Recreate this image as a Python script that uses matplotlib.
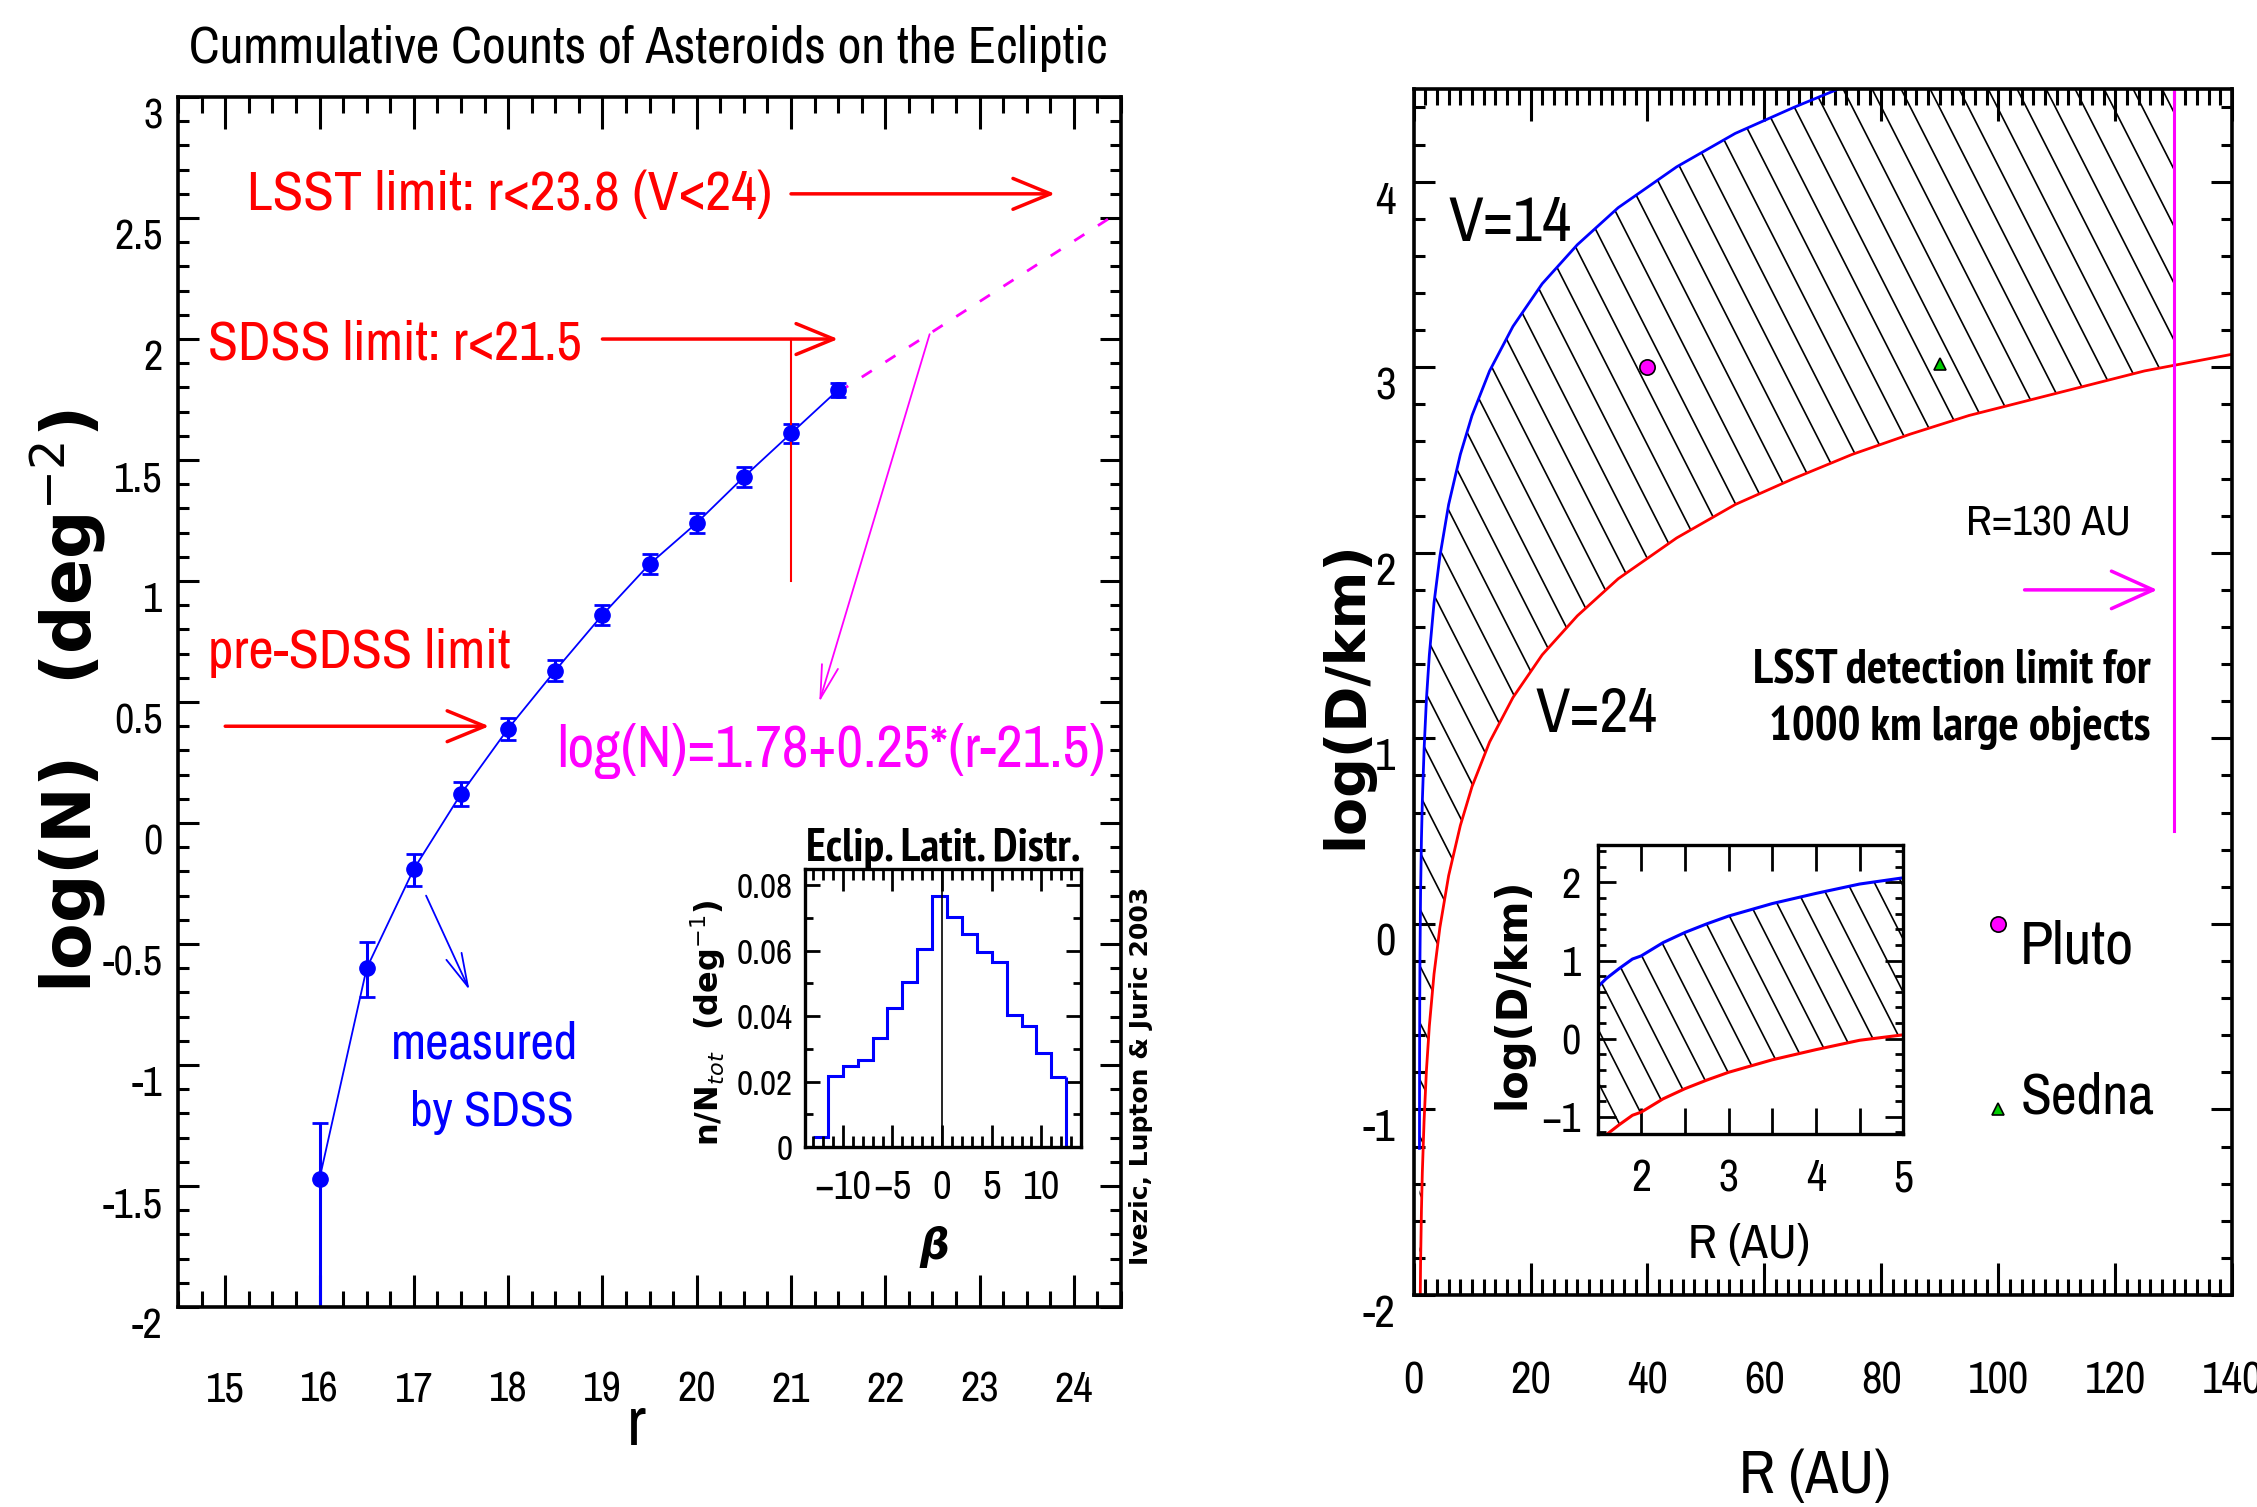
import numpy as np
import matplotlib
matplotlib.use("Agg")
import matplotlib.pyplot as plt
from matplotlib.ticker import MultipleLocator
from matplotlib.collections import LineCollection
from matplotlib.textpath import TextPath
from matplotlib import font_manager as fm

# ---- left panel: cumulative counts ----
r_mag = [16.0, 16.5, 17.0, 17.5, 18.0, 18.5, 19.0, 19.5, 20.0, 20.5, 21.0, 21.5]
logN = [-1.47, -0.60, -0.19, 0.12, 0.39, 0.63, 0.86, 1.07, 1.24, 1.43, 1.61, 1.79]
logN_err_lo = [0.80, 0.12, 0.07, 0.05, 0.045, 0.045, 0.04, 0.04, 0.04, 0.04, 0.04, 0.03]
logN_err_hi = [0.23, 0.11, 0.06, 0.05, 0.045, 0.045, 0.04, 0.04, 0.04, 0.04, 0.04, 0.03]
fit_r = [21.5, 24.5]
fit_logN = [1.78, 2.53]

lsst_limit = 23.8
sdss_limit = 21.5
pre_sdss_limit = 17.8

# inset: ecliptic latitude distribution
beta_edges = [-13.0, -11.5, -10.0, -8.5, -7.0, -5.5, -4.0, -2.5, -1.0, 0.5,
              2.0, 3.5, 5.0, 6.5, 8.0, 9.5, 11.0, 12.5]
beta_frac = [0.0031, 0.0216, 0.0247, 0.0267, 0.0332, 0.0426, 0.0503, 0.0606,
             0.0767, 0.0704, 0.0650, 0.0597, 0.0565, 0.0403, 0.0371, 0.0288, 0.0214]

# ---- right panel: size vs distance ----
R_au = [1.01, 1.03, 1.06, 1.1, 1.2, 1.35, 1.5, 1.8, 2.2, 2.7, 3.5, 4.5, 6, 8, 10, 13,
        17, 22, 28, 35, 45, 55, 65, 75, 85, 95, 105, 115, 125, 130, 135, 140]
logD_v24 = [-3.21, -2.72, -2.41, -2.17, -1.83, -1.54, -1.34, -1.06, -0.79, -0.55, -0.27,
            -0.02, 0.26, 0.53, 0.74, 0.98, 1.22, 1.45, 1.66, 1.86, 2.08, 2.26, 2.40,
            2.53, 2.64, 2.74, 2.82, 2.90, 2.98, 3.01, 3.04, 3.07]
logD_v14 = [-1.21, -0.72, -0.41, -0.17, 0.17, 0.46, 0.66, 0.94, 1.21, 1.45, 1.73,
            1.98, 2.26, 2.53, 2.74, 2.98, 3.22, 3.45, 3.66, 3.86, 4.08, 4.26, 4.40,
            4.53, 4.64, 4.74, 4.82, 4.90, 4.98, 5.01, 5.04, 5.07]
R_limit = 130

R_in = [1.5, 1.6, 1.75, 1.9, 2.0, 2.25, 2.5, 2.75, 3.0, 3.5, 4.0, 4.5, 5.0]
logD_in_v14 = [0.66, 0.77, 0.90, 1.02, 1.06, 1.23, 1.36, 1.47, 1.57, 1.73, 1.86, 1.98, 2.06]
logD_in_v24 = [-1.34, -1.23, -1.10, -0.98, -0.94, -0.77, -0.64, -0.53, -0.43, -0.27, -0.14, -0.02, 0.05]

objects = ["Pluto", "Sedna"]
obj_R = [39.9, 90.0]
obj_logD = [3.0, 3.02]
obj_color = ["#ff00ff", "#00cc00"]
obj_marker = ["o", "^"]

RED = "#ff0000"
BLUE = "#0000ff"
MAG = "#ff00ff"

plt.rcParams["axes.unicode_minus"] = False


# look for a condensed sans face (the original uses a narrow vector font)
def find_narrow(bold=False):
    rank = {"condensed": 0, "semi-condensed": 1, "extra-condensed": 2}
    best = None
    for f in fm.fontManager.ttflist:
        w = f.weight if isinstance(f.weight, int) else fm.weight_dict.get(f.weight, 400)
        if f.style != "normal" or (w >= 600) != bold or (not bold and w < 350):
            continue
        st = f.stretch
        if "Narrow" in f.name:
            key = (-1, 0, f.name)
        elif isinstance(st, str) and st in rank:
            key = (rank[st], 0 if "Sans" in f.name else 1, abs(w - (700 if bold else 400)), f.name)
        else:
            continue
        if best is None or key < best[0]:
            best = (key, f.fname)
    return best[1] if best else None


_reg = find_narrow(False)
_bold = find_narrow(True) or _reg


def FP(size, bold=False):
    path = _bold if bold else _reg
    if path:
        return fm.FontProperties(fname=path, size=size)
    return fm.FontProperties(family="DejaVu Sans", size=size,
                             weight="bold" if bold else "normal")


fig = plt.figure(figsize=(22.57, 15.07), dpi=100)
renderer = fig.canvas.get_renderer()

# digit height (px) of the tick font per point of size
_digit = TextPath((0, 0), "0", prop=FP(100)).get_extents().height / 100 * fig.dpi / 72


def tsize(px):
    return px / _digit


def fit(t, target_px):
    w = t.get_window_extent(renderer).width
    t.set_fontsize(t.get_fontsize() * float(np.clip(target_px / w, 0.55, 1.2)))
    return t


def frame(ax, xmaj, xmin, ymaj, ymin, xl, yl, w=2.2):
    ax.tick_params(which="both", direction="in", top=True, right=True, width=w)
    ax.tick_params(axis="x", which="major", length=xl[0])
    ax.tick_params(axis="x", which="minor", length=xl[1])
    ax.tick_params(axis="y", which="major", length=yl[0])
    ax.tick_params(axis="y", which="minor", length=yl[1])
    ax.xaxis.set_major_locator(MultipleLocator(xmaj))
    ax.xaxis.set_minor_locator(MultipleLocator(xmin))
    ax.yaxis.set_major_locator(MultipleLocator(ymaj))
    ax.yaxis.set_minor_locator(MultipleLocator(ymin))
    for s in ax.spines.values():
        s.set_linewidth(w + 0.4)


def arrow(ax, start, end, color, lw, hl, hw, ms=30):
    ax.annotate("", xy=end, xytext=start,
                arrowprops=dict(arrowstyle=f"->,head_length={hl},head_width={hw}",
                                color=color, lw=lw, shrinkA=0, shrinkB=0,
                                mutation_scale=ms))


def hatch(ax, coll, step=29, angle=63, lw=1.2):
    bb = ax.get_position()
    w = bb.width * fig.get_figwidth() * fig.dpi
    h = bb.height * fig.get_figheight() * fig.dpi
    run = h / np.tan(np.radians(angle))
    segs = []
    for xs in np.arange(-run, w + step, step):
        segs.append([(xs / w, 1.0), ((xs + run) / w, 0.0)])
    lc = LineCollection(segs, transform=ax.transAxes, colors="k", linewidths=lw)
    lc.set_clip_path(coll.get_paths()[0], coll.get_transform())
    ax.add_collection(lc)


def ticklabels(ax, xt, xl, yt, yl, xpx, ypx, xpad, ypad, yva="center_baseline"):
    ax.set_xticks(xt, labels=xl, fontproperties=FP(tsize(xpx)))
    ax.set_yticks(yt, labels=yl, fontproperties=FP(tsize(ypx)), va=yva)
    ax.tick_params(axis="x", pad=xpad)
    ax.tick_params(axis="y", pad=ypad)


LAB = dict(family="DejaVu Sans", fontweight="bold")

# ================= left panel =================
ax1 = fig.add_axes([0.0789, 0.1327, 0.4178, 0.8029])
ax1.set_xlim(14.5, 24.5)
ax1.set_ylim(-2, 3)
frame(ax1, 1, 0.25, 0.5, 0.1, (23, 11.5), (15, 8))
xt = list(range(15, 25))
yt = [-2, -1.5, -1, -0.5, 0, 0.5, 1, 1.5, 2, 2.5, 3]
ticklabels(ax1, xt, [str(v) for v in xt], yt, [f"{v:g}" for v in yt], 30, 30, 46, 11, "top")

ax1.errorbar(r_mag, logN, yerr=[logN_err_lo, logN_err_hi], fmt="o-", color=BLUE,
             ms=11, lw=1.3, elinewidth=2.2, capsize=6, capthick=2)
ax1.plot(fit_r, fit_logN, color=MAG, lw=2, dashes=(4.3, 5.8))

fit(ax1.text(15.23, 2.533, "LSST limit: r<23.8 (V<24)", color=RED, fontproperties=FP(35)), 525)
arrow(ax1, (21.0, 2.6), (lsst_limit, 2.6), RED, 2.5, 0.9, 0.37)
fit(ax1.text(14.82, 1.916, "SDSS limit: r<21.5", color=RED, fontproperties=FP(35)), 374)
arrow(ax1, (19.0, 2.0), (sdss_limit, 2.0), RED, 2.5, 0.9, 0.37)
ax1.plot([21, 21], [1.0, 2.0], color=RED, lw=1.5)
fit(ax1.text(14.82, 0.64, "pre-SDSS limit", color=RED, fontproperties=FP(35)), 302)
arrow(ax1, (15.0, 0.4), (pre_sdss_limit, 0.4), RED, 2.5, 0.9, 0.37)

fit(ax1.text(24.33, 0.233, "log(N)=1.78+0.25*(r-21.5)", color=MAG, ha="right",
             fontproperties=FP(35)), 557)
arrow(ax1, (22.47, 2.02), (21.3, 0.5), MAG, 1.3, 1.2, 0.3, ms=20)

arrow(ax1, (17.13, -0.30), (17.59, -0.69), BLUE, 1.3, 1.2, 0.3, ms=20)
fit(ax1.text(18.74, -0.974, "measured", color=BLUE, ha="right", fontproperties=FP(35)), 187)
fit(ax1.text(18.70, -1.253, "by SDSS", color=BLUE, ha="right", fontproperties=FP(35)), 164)

ax1.text(0.486, -0.114, "r", transform=ax1.transAxes, ha="center", fontproperties=FP(50))
fig.text(0.030, 0.5344, "log(N)   (deg$^{-2}$)", rotation=90, ha="center", va="center",
         fontsize=49, **LAB)
fit(fig.text(0.2871, 0.958, "Cummulative Counts of Asteroids on the Ecliptic",
             ha="center", va="baseline", fontproperties=FP(34)), 918)
fig.text(0.5055, 0.286, "Ivezic, Lupton & Juric 2003", rotation=90, ha="center",
         va="center", fontsize=18, fontweight="bold", family="DejaVu Sans")

# inset histogram
axh = fig.add_axes([0.3567, 0.2389, 0.1223, 0.1845])
axh.set_xlim(-13.8, 14.0)
axh.set_ylim(0, 0.085)
frame(axh, 5, 1, 0.02, 0.01, (16, 8), (11, 6), w=2.0)
hx = [-10, -5, 0, 5, 10]
hy = [0, 0.02, 0.04, 0.06, 0.08]
ticklabels(axh, hx, [str(v).replace("-", "\u2212") for v in hx],
           hy, ["0", "0.02", "0.04", "0.06", "0.08"], 29, 25, 16, 9)
axh.stairs(beta_frac, beta_edges, baseline=None, color=BLUE, lw=2.2)
axh.vlines(beta_edges[-1], 0, beta_frac[-1], color=BLUE, lw=2.2)
axh.axvline(0, color="k", lw=1.2)
fit(axh.text(0.5, 1.03, "Eclip. Latit. Distr.", transform=axh.transAxes, ha="center",
             va="baseline", fontproperties=FP(28, bold=True)), 275)
axh.text(0.47, -0.36, "\u03b2", transform=axh.transAxes, ha="center", va="center",
         fontsize=30, fontweight="bold", style="italic", family="DejaVu Sans")
fig.text(0.3137, 0.321, "n/N$_{tot}$  (deg$^{-1}$)", rotation=90, ha="center",
         va="center", fontsize=23, **LAB)

# ================= right panel =================
ax2 = fig.add_axes([0.6263, 0.1407, 0.3627, 0.8003])
ax2.set_xlim(0, 140)
ax2.set_ylim(-2, 4.5)
frame(ax2, 20, 2, 1, 0.2, (23, 11.5), (15, 8))
rx = list(range(0, 141, 20))
ry = list(range(-2, 5))
ticklabels(ax2, rx, [str(v) for v in rx], ry, [str(v) for v in ry], 32, 32, 48, 13, "top")

R = np.array(R_au)
band = ax2.fill_between(R, logD_v24, logD_v14, where=R <= R_limit,
                        facecolor="none", edgecolor="none")
hatch(ax2, band)
ax2.plot(R_au, logD_v14, color=BLUE, lw=2)
ax2.plot(R_au, logD_v24, color=RED, lw=2)
ax2.plot([R_limit, R_limit], [0.5, 4.5], color=MAG, lw=2.2)
arrow(ax2, (104.5, 1.8), (127.2, 1.8), MAG, 2.5, 1.0, 0.45)
for x, y, c, m in zip(obj_R, obj_logD, obj_color, obj_marker):
    ax2.plot(x, y, m, color=c, mec="k", ms=11 if m == "o" else 8, mew=1.2)

# key
ax2.plot(100, 0.0, "o", color=obj_color[0], mec="k", ms=11, mew=1.2)
fit(ax2.text(103.6, -0.213, objects[0], fontproperties=FP(42)), 114)
ax2.plot(100, -1.0, "^", color=obj_color[1], mec="k", ms=8, mew=1.2)
fit(ax2.text(103.8, -1.021, objects[1], fontproperties=FP(42)), 134)

fit(ax2.text(5.95, 3.68, "V=14", fontproperties=FP(42)), 123)
fit(ax2.text(20.8, 1.035, "V=24", fontproperties=FP(42)), 122)
fit(ax2.text(94.4, 2.093, "R=130 AU", fontproperties=FP(30)), 165)
fit(ax2.text(126, 1.295, "LSST detection limit for", ha="right",
             fontproperties=FP(31, bold=True)), 397)
fit(ax2.text(126, 0.989, "1000 km large objects", ha="right",
             fontproperties=FP(31, bold=True)), 381)

fit(ax2.text(0.49, -0.164, "R (AU)", transform=ax2.transAxes, ha="center",
             fontproperties=FP(45)), 152)
fig.text(0.5964, 0.5388, "log(D/km)", rotation=90, ha="center", va="center",
         fontsize=40, **LAB)

# inset: inner solar system
axi = fig.add_axes([0.7078, 0.2475, 0.1355, 0.1918])
axi.set_xlim(1.5, 5)
axi.set_ylim(-1.22, 2.48)
frame(axi, 1, 0.5, 1, 0.2, (19, 19), (13, 6), w=2.0)
ix = [2, 3, 4, 5]
iy = [-1, 0, 1, 2]
ticklabels(axi, ix, [str(v) for v in ix], iy,
           [str(v).replace("-", "\u2212") for v in iy], 31, 30, 18, 12)
band_in = axi.fill_between(R_in, logD_in_v24, logD_in_v14, facecolor="none", edgecolor="none")
hatch(axi, band_in, step=27)
axi.plot(R_in, logD_in_v14, color=BLUE, lw=2.2)
axi.plot(R_in, logD_in_v24, color=RED, lw=2.2)
fit(axi.text(0.495, -0.43, "R (AU)", transform=axi.transAxes, ha="center",
             fontproperties=FP(35)), 122)
fig.text(0.670, 0.341, "log(D/km)", rotation=90, ha="center", va="center",
         fontsize=30, **LAB)

fig.savefig("out.png", dpi=100, facecolor="white")
